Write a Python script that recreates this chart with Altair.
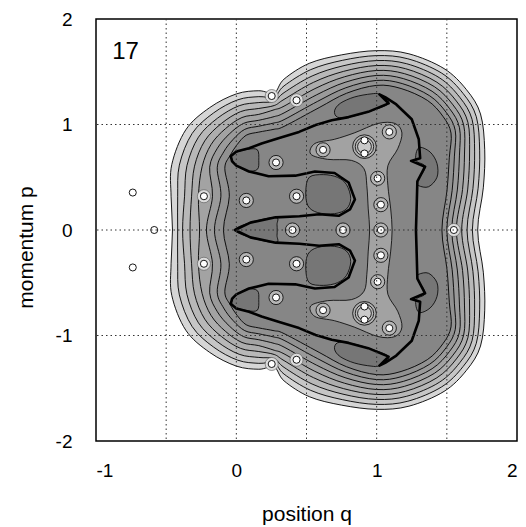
import altair as alt
import pandas as pd

FONT = "Liberation Sans"

# ---------------- data (upper half; picture is symmetric in p) -------------
# contour rings of the outer band, outermost first (each starts and ends on p = 0)
RING_Q = [
    [1.72, 1.76, 1.77, 1.74, 1.64, 1.48, 1.23, 1.00, 0.75, 0.52, 0.34, 0.27, 0.16, 0.00, -0.19, -0.36, -0.46, -0.465, -0.455],
    [1.682, 1.723, 1.734, 1.710, 1.616, 1.463, 1.222, 1.000, 0.755, 0.530, 0.340, 0.270, 0.160, 0.010, -0.162, -0.315, -0.406, -0.418, -0.418],
    [1.644, 1.686, 1.698, 1.680, 1.592, 1.446, 1.214, 1.000, 0.760, 0.540, 0.340, 0.270, 0.160, 0.020, -0.134, -0.270, -0.352, -0.369, -0.383],
    [1.606, 1.649, 1.662, 1.650, 1.568, 1.429, 1.206, 1.000, 0.765, 0.550, 0.340, 0.270, 0.160, 0.030, -0.106, -0.225, -0.298, -0.319, -0.330],
    [1.568, 1.612, 1.626, 1.620, 1.544, 1.412, 1.198, 1.000, 0.770, 0.560, 0.340, 0.270, 0.160, 0.040, -0.078, -0.180, -0.244, -0.270, -0.262],
    [1.535, 1.575, 1.590, 1.590, 1.520, 1.395, 1.190, 1.000, 0.775, 0.570, 0.340, 0.270, 0.160, 0.050, -0.050, -0.135, -0.190, -0.170, -0.213],
    [1.500, 1.538, 1.554, 1.560, 1.496, 1.378, 1.182, 1.000, 0.780, 0.580, 0.340, 0.270, 0.160, 0.060, -0.022, -0.090, -0.136, -0.110, -0.156],
    [1.465, 1.501, 1.518, 1.530, 1.472, 1.361, 1.174, 1.000, 0.785, 0.590, 0.340, 0.270, 0.160, 0.070, 0.006, -0.045, -0.082, -0.050, -0.092],
]
RING_P = [
    [0.00, 0.40, 0.76, 1.10, 1.33, 1.53, 1.67, 1.70, 1.66, 1.58, 1.43, 1.30, 1.32, 1.29, 1.16, 0.95, 0.62, 0.32, 0.00],
    [0.00, 0.396, 0.750, 1.074, 1.294, 1.487, 1.623, 1.653, 1.608, 1.520, 1.366, 1.260, 1.264, 1.234, 1.110, 0.915, 0.615, 0.32, 0.00],
    [0.00, 0.392, 0.740, 1.048, 1.258, 1.444, 1.576, 1.606, 1.556, 1.460, 1.302, 1.220, 1.208, 1.178, 1.060, 0.880, 0.610, 0.32, 0.00],
    [0.00, 0.388, 0.730, 1.022, 1.222, 1.401, 1.529, 1.559, 1.504, 1.400, 1.238, 1.180, 1.152, 1.122, 1.010, 0.845, 0.605, 0.32, 0.00],
    [0.00, 0.384, 0.720, 0.996, 1.186, 1.358, 1.482, 1.512, 1.452, 1.340, 1.174, 1.140, 1.096, 1.066, 0.960, 0.810, 0.600, 0.32, 0.00],
    [0.00, 0.380, 0.710, 0.970, 1.150, 1.315, 1.435, 1.465, 1.400, 1.280, 1.110, 1.075, 1.040, 1.010, 0.910, 0.775, 0.595, 0.32, 0.00],
    [0.00, 0.376, 0.700, 0.944, 1.114, 1.272, 1.388, 1.418, 1.348, 1.220, 1.046, 1.015, 0.984, 0.954, 0.860, 0.740, 0.590, 0.32, 0.00],
    [0.00, 0.372, 0.690, 0.918, 1.078, 1.229, 1.341, 1.371, 1.296, 1.160, 0.982, 0.955, 0.928, 0.898, 0.810, 0.705, 0.585, 0.32, 0.00],
]
RING_FILL = ["#d6d6d6", "#c6c6c6", "#b8b8b8", "#adadad", "#a3a3a3", "#9a9a9a", "#919191", "#868686"]

# thick contour (trident shaped), upper half, from right (p=0) to the middle tongue tip (p=0)
THICK_Q = [1.28, 1.285, 1.29, 1.345, 1.245, 1.31, 1.30, 1.25, 1.14, 1.06, 1.02, 1.085, 0.94, 0.80, 0.68,
           0.565, 0.447, 0.30, 0.18, 0.09, 0.0, -0.04, -0.03, 0.0, 0.09, 0.23, 0.42, 0.56, 0.70, 0.80,
           0.845, 0.81, 0.73, 0.59, 0.45, 0.28, 0.10, -0.01]
THICK_P = [0.00, 0.22, 0.46, 0.60, 0.655, 0.68, 0.86, 1.05, 1.19, 1.26, 1.285, 1.20, 1.12, 1.07, 1.04,
           0.995, 0.93, 0.87, 0.82, 0.775, 0.745, 0.70, 0.65, 0.61, 0.555, 0.51, 0.515, 0.555, 0.54, 0.45,
           0.29, 0.195, 0.135, 0.15, 0.13, 0.12, 0.07, 0.00]

# darker patches (upper half; mirrored copies below)
DARK_Q = [
    [0.70, 0.74, 0.84, 0.96, 1.02, 1.085, 0.94, 0.80, 0.72],
    [1.30, 1.38, 1.43, 1.43, 1.37, 1.30, 1.29, 1.345, 1.28],
    [0.52, 0.62, 0.72, 0.785, 0.815, 0.785, 0.70, 0.58, 0.51, 0.495],
    [-0.035, 0.0, 0.08, 0.15, 0.16, 0.15, 0.08, 0.0],
]
DARK_P = [
    [1.13, 1.20, 1.26, 1.29, 1.285, 1.20, 1.12, 1.07, 1.07],
    [0.78, 0.74, 0.63, 0.50, 0.41, 0.42, 0.46, 0.60, 0.66],
    [0.50, 0.525, 0.50, 0.43, 0.30, 0.20, 0.155, 0.165, 0.23, 0.37],
    [0.69, 0.735, 0.765, 0.76, 0.66, 0.575, 0.56, 0.615],
]
# dark middle tongue (crosses p = 0)
TONGUE_Q = [-0.01, 0.10, 0.28, 0.29, 0.29, 0.28, 0.10]
TONGUE_P = [0.00, 0.07, 0.12, 0.05, -0.05, -0.12, -0.07]

# lighter region around the chain of zeros (upper half, ends on p = 0)
LIGHT_Q = [1.11, 1.10, 1.08, 1.08, 1.15, 1.18, 1.13, 1.01, 0.84, 0.70, 0.56, 0.53, 0.65, 0.82, 0.91, 0.93, 0.94, 0.95]
LIGHT_P = [0.00, 0.20, 0.42, 0.61, 0.77, 0.92, 1.01, 1.01, 0.92, 0.86, 0.82, 0.72, 0.67, 0.66, 0.58, 0.42, 0.20, 0.00]

# zeros (white dots)
DOT_Q = [-0.738, -0.585, -0.738, -0.231, -0.231, 0.071, 0.071, 0.252, 0.429, 0.252, 0.429,
         0.283, 0.283, 0.429, 0.429, 0.400, 0.618, 0.618, 0.760, 0.913, 0.913, 0.913, 0.913,
         1.090, 1.090, 1.007, 1.007, 1.030, 1.030, 1.030, 1.550]
DOT_P = [0.355, 0.0, -0.355, 0.32, -0.32, 0.28, -0.28, 1.27, 1.23, -1.27, -1.23,
         0.64, -0.64, 0.32, -0.32, 0.0, 0.76, -0.76, 0.0, 0.85, 0.725, -0.725, -0.85,
         0.93, -0.93, 0.49, -0.49, 0.24, 0.0, -0.24, 0.0]
# zeros surrounded by a small closed contour
HALO_Q = [0.283, 0.283, 0.429, 0.429, 0.400, 0.071, 0.071, 0.618, 0.618, 1.090, 1.090, 1.007, 1.007, 1.030, 1.030, 1.030, 0.760]
HALO_P = [0.64, -0.64, 0.32, -0.32, 0.0, 0.28, -0.28, 0.76, -0.76, 0.93, -0.93, 0.49, -0.49, 0.24, 0.0, -0.24, 0.0]
# zeros in the outer band sitting in a light pocket
POCKET_Q = [-0.231, -0.231, 0.252, 0.429, 0.252, 0.429, 1.550]
POCKET_P = [0.32, -0.32, 1.27, 1.23, -1.27, -1.23, 0.0]
PAIR_Q = [0.913, 0.913]
PAIR_P = [0.79, -0.79]

GRID_Q = [-0.5, 0.0, 0.5, 1.0, 1.5]
GRID_P = [-1.0, 0.0, 1.0]
LABEL_TEXT = ["17"]
LABEL_Q = [-0.79]
LABEL_P = [1.69]

# ---------------- chart ----------------
XS = alt.Scale(domain=[-1, 2], nice=False, zero=False)
YS = alt.Scale(domain=[-2, 2], nice=False, zero=False)
XAX = alt.Axis(values=[-1, 0, 1, 2], title="position q", grid=False, ticks=False, domain=False,
               labelExpr="'' + datum.value", labelFont=FONT, labelFontSize=19, labelColor="black",
               labelPadding=20, titleFont=FONT, titleFontSize=21, titleFontWeight="normal",
               titleColor="black", titleBaseline="alphabetic", titleY=79)
YAX = alt.Axis(values=[-2, -1, 0, 1, 2], title="momentum p", grid=False, ticks=False, domain=False,
               labelExpr="'' + datum.value", labelFont=FONT, labelFontSize=19, labelColor="black",
               labelPadding=24, titleFont=FONT, titleFontSize=21, titleFontWeight="normal",
               titleColor="black", titleBaseline="alphabetic", titleAngle=270, titleAlign="center",
               titleX=-64, titleY=228)


def xy(**extra):
    return dict(x=alt.X("q:Q", scale=XS, axis=XAX), y=alt.Y("p:Q", scale=YS, axis=YAX), **extra)


def closed_mirror(qs, ps):
    upper = list(zip(qs, ps))
    lower = [(q, -p) for q, p in reversed(upper[1:-1])]
    return upper + lower


def poly(points, fill, stroke="black", sw=0.8, interp="cardinal-closed"):
    df = pd.DataFrame([{"q": q, "p": p, "i": i} for i, (q, p) in enumerate(points)])
    mk = dict(interpolate=interp, stroke=stroke, strokeWidth=sw, strokeJoin="round",
              fill=fill if fill is not None else "transparent")
    return alt.Chart(df).mark_line(**mk).encode(**xy(order=alt.Order("i:Q")))


def circles(qs, ps, size, fill, stroke="black", sw=0.8):
    df = pd.DataFrame({"q": qs, "p": ps})
    return alt.Chart(df).mark_point(shape="circle", filled=True, fill=fill, stroke=stroke,
                                    strokeWidth=sw, size=size, opacity=1).encode(**xy())


layers = []
for k in range(len(RING_Q)):
    layers.append(poly(closed_mirror(RING_Q[k], RING_P[k]), RING_FILL[k], sw=0.9))

for dq, dp in zip(DARK_Q, DARK_P):
    up = list(zip(dq, dp))
    layers.append(poly(up, "#767676", sw=0.8))
    layers.append(poly([(q, -p) for q, p in up], "#767676", sw=0.8))
layers.append(poly(list(zip(TONGUE_Q, TONGUE_P)), "#767676", sw=0.8))
layers.append(poly(closed_mirror(LIGHT_Q, LIGHT_P), "#a2a2a2", sw=0.8))
layers.append(poly(closed_mirror(THICK_Q, THICK_P), None, sw=2.6, interp="linear-closed"))

layers.append(circles(POCKET_Q, POCKET_P, 170, "#dcdcdc", stroke="#555555", sw=0.6))
for size, col in [(560, "#afafaf"), (340, "#bdbdbd"), (190, "#cacaca")]:
    layers.append(circles(PAIR_Q, PAIR_P, size, col))
layers.append(circles(HALO_Q, HALO_P, 200, "#b6b6b6"))
layers.append(circles(DOT_Q, DOT_P, 50, "white", sw=0.9))

gq = pd.DataFrame({"q": GRID_Q})
gp = pd.DataFrame({"p": GRID_P})
layers.append(alt.Chart(gq).mark_rule(color="#333333", strokeWidth=1, strokeDash=[1.5, 3]).encode(
    x=alt.X("q:Q", scale=XS, axis=XAX)))
layers.append(alt.Chart(gp).mark_rule(color="#333333", strokeWidth=1, strokeDash=[1.5, 3]).encode(
    y=alt.Y("p:Q", scale=YS, axis=YAX)))

lab = pd.DataFrame({"q": LABEL_Q, "p": LABEL_P, "t": LABEL_TEXT})
layers.append(alt.Chart(lab).mark_text(font=FONT, fontSize=24, color="black", align="center",
                                       baseline="middle").encode(**xy(text="t:N")))

chart = alt.layer(*layers).properties(
    width=421, height=422, autosize="none",
    padding={"left": 96, "top": 19, "right": 9, "bottom": 86},
    background="white",
).configure_view(stroke="black", strokeWidth=1.5)

chart.save("out.html", embed_options={"renderer": "svg", "actions": False})
